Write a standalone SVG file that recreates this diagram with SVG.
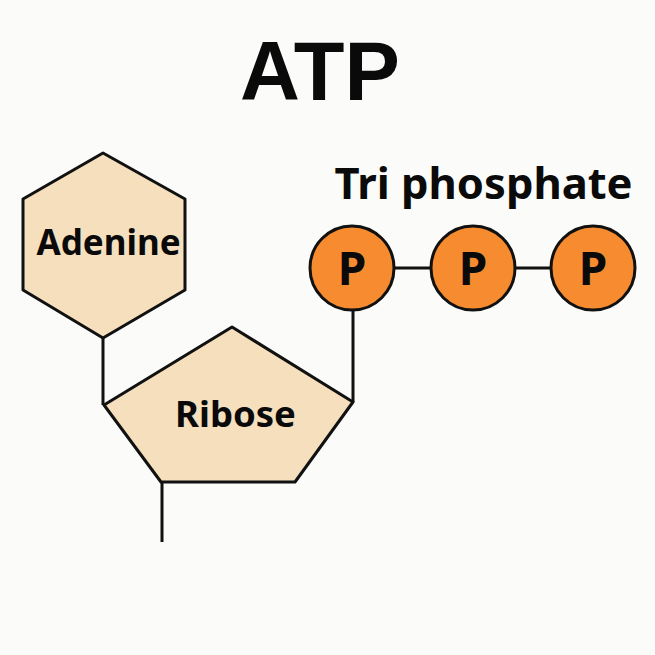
<svg xmlns="http://www.w3.org/2000/svg" width="655" height="655" viewBox="0 0 655 655">
<style>
.shape{fill:#f5dfbd;stroke:#111;stroke-width:3;stroke-linejoin:round}
.ph{fill:#f68b2f;stroke:#111;stroke-width:3}
.ln{stroke:#111;stroke-width:3;fill:none}
.lbl{font-family:"Noto Sans","Open Sans",sans-serif;font-weight:bold;fill:#0a0a0a;text-anchor:middle}
</style>
<rect width="655" height="655" fill="#fbfbf9"/>
<text x="320" y="100" font-family="Liberation Sans, Arial, sans-serif" font-weight="bold" font-size="83" text-anchor="middle" fill="#0a0a0a">ATP</text>
<text class="lbl" x="483.5" y="199" font-size="43.5">Tri phosphate</text>
<g id="connectors">
<line class="ln" x1="103" y1="338" x2="103" y2="405"/>
<line class="ln" x1="162" y1="482" x2="162" y2="542"/>
<line class="ln" x1="353" y1="402" x2="353" y2="310"/>
<line class="ln" x1="394" y1="268" x2="432" y2="268"/>
<line class="ln" x1="514" y1="268" x2="552" y2="268"/>
</g>
<g id="adenine">
<polygon class="shape" points="103,153 185,199 185,290 103,338 23,290 23,199"/>
<text class="lbl" x="108.5" y="255" font-size="35">Adenine</text>
</g>
<g id="ribose">
<polygon class="shape" points="232,327 353,402 295,482 161,482 104,405"/>
<text class="lbl" x="235.5" y="427" font-size="36.5">Ribose</text>
</g>
<g id="p1">
<circle class="ph" cx="352" cy="268" r="42"/>
<text class="lbl" x="352" y="285" font-size="46">P</text>
</g>
<g id="p2">
<circle class="ph" cx="473" cy="268" r="42"/>
<text class="lbl" x="473" y="285" font-size="46">P</text>
</g>
<g id="p3">
<circle class="ph" cx="593" cy="268" r="42"/>
<text class="lbl" x="593" y="285" font-size="46">P</text>
</g>
</svg>
